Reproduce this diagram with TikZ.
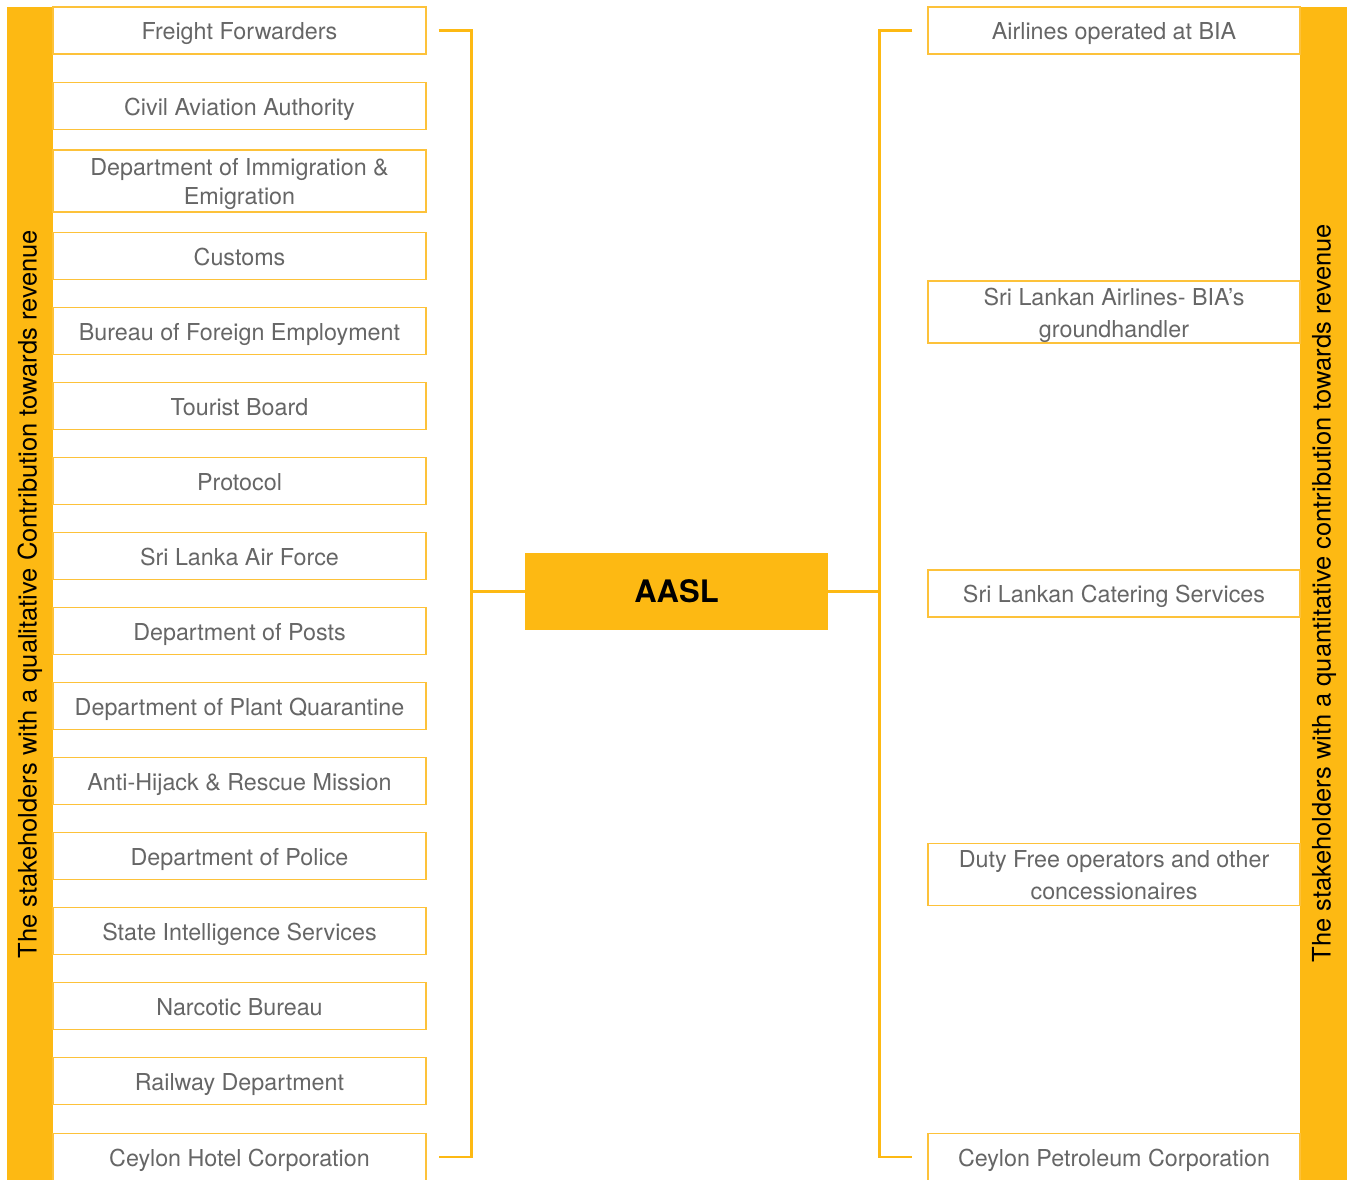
\documentclass[tikz,border=0pt]{standalone}
\usepackage{fontspec}
\setmainfont{TeX Gyre Heros}
\usetikzlibrary{calc}
\definecolor{aaslyellow}{HTML}{FDB913}
\definecolor{boxedge}{HTML}{FDC23A}
\definecolor{labelgrey}{HTML}{666666}
% struts fixing the height above the first baseline and the depth below the last
\newcommand{\topstrut}{\rule{0pt}{23.6pt}}
\newcommand{\botstrut}{\rule[-5pt]{0pt}{0pt}}
\begin{document}
\begin{tikzpicture}[x=1pt,y=-1pt,
  stakebox/.style={draw=boxedge, line width=1.2pt, fill=white,
    minimum width=373pt, minimum height=47pt, inner sep=0pt,
    text=labelgrey, font=\fontsize{23.3}{29}\selectfont, align=center,
    execute at begin node=\topstrut, execute at end node=\botstrut},
  rightbox/.style={stakebox, minimum width=372pt, font=\fontsize{23.3}{32}\selectfont},
  tallbox/.style={minimum height=62pt, execute at begin node={}, execute at end node={}},
  sidebar/.style={fill=aaslyellow, draw=none, inner sep=0pt, anchor=north west,
    minimum width=46pt, minimum height=1180pt},
  sidetext/.style={rotate=90, font=\fontsize{25.5}{30}\selectfont, text=black, inner sep=0pt},
  link/.style={draw=aaslyellow, line width=2.4pt},
  hub/.style={fill=aaslyellow, draw=none, minimum width=303pt, minimum height=77pt,
    inner sep=0pt, font=\bfseries\fontsize{31}{36}\selectfont, text=black}
]
\useasboundingbox (0,0) rectangle (1352,1179);
\clip (0,0) rectangle (1352,1179);

% side bars with their captions
\node[sidebar] (lbar) at (7,7) {};
\node[sidebar, minimum width=47pt] (rbar) at (1300,7) {};
\node[sidetext] (ltext) at (30,594) {The stakeholders with a qualitative Contribution towards revenue};
\node[sidetext] (rtext) at (1324,593) {The stakeholders with a quantitative contribution towards revenue};

% qualitative stakeholders
\node[stakebox] (ff)  at (239.5,30.5) {Freight Forwarders};
\node[stakebox] (caa) at (239.5,106) {Civil Aviation Authority};
\node[stakebox, tallbox] (imm) at (239.5,181) {\topstrut Department of Immigration \&\\Emigration\botstrut};
\node[stakebox] (cus) at (239.5,256) {Customs};
\node[stakebox] (bfe) at (239.5,331) {Bureau of Foreign Employment};
\node[stakebox] (tb)  at (239.5,406) {Tourist Board};
\node[stakebox] (pro) at (239.5,481) {Protocol};
\node[stakebox] (saf) at (239.5,556) {Sri Lanka Air Force};
\node[stakebox] (dp)  at (239.5,631) {Department of Posts};
\node[stakebox] (dpq) at (239.5,706) {Department of Plant Quarantine};
\node[stakebox] (ahr) at (239.5,781) {Anti-Hijack \& Rescue Mission};
\node[stakebox] (pol) at (239.5,856) {Department of Police};
\node[stakebox] (sis) at (239.5,931) {State Intelligence Services};
\node[stakebox] (nb)  at (239.5,1006) {Narcotic Bureau};
\node[stakebox] (rd)  at (239.5,1081) {Railway Department};
\node[stakebox] (ch)  at (239.5,1157) {Ceylon Hotel Corporation};

% quantitative stakeholders
\node[rightbox] (air) at (1114,30.5) {Airlines operated at BIA};
\node[rightbox, tallbox] (sla) at (1114,312) {\topstrut Sri Lankan Airlines- BIA’s\\groundhandler\botstrut};
\node[rightbox] (cat) at (1114,593.5) {Sri Lankan Catering Services};
\node[rightbox, tallbox] (dfo) at (1114,874.5) {\topstrut Duty Free operators and other\\concessionaires\botstrut};
\node[rightbox] (pet) at (1114,1157) {Ceylon Petroleum Corporation};

% central company
\node[hub] (aasl) at (676.5,591.5) {AASL};

% brackets joining each group to the hub
\coordinate (lbus) at ($(ch.east)+(45,0)$);
\coordinate (rbus) at ($(pet.west)+(-48,0)$);
\draw[link] ([xshift=12]ff.east) -| (lbus) -- ([xshift=12]ch.east);
\draw[link] (aasl.west) -- (aasl.west -| lbus);
\draw[link] ([xshift=-15]air.west) -| (rbus) -- ([xshift=-15]pet.west);
\draw[link] (aasl.east) -- (aasl.east -| rbus);
\end{tikzpicture}
\end{document}
